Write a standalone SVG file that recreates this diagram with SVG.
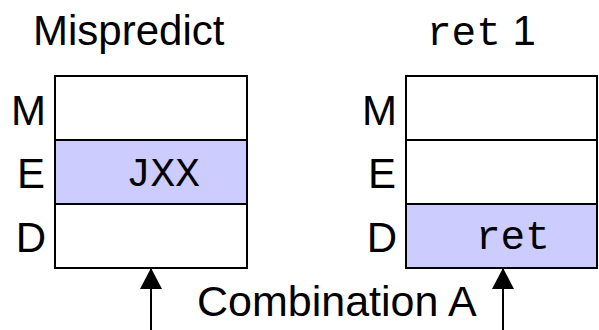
<svg xmlns="http://www.w3.org/2000/svg" width="599" height="330" viewBox="0 0 599 330">
<style>
.sans{font-family:"Liberation Sans",Arial,sans-serif;font-size:42px;fill:#000}
.mono{font-family:"Liberation Mono","Courier New",monospace;font-size:41px;fill:#000}
.cell{stroke:#000;stroke-width:2;fill:#fff}
.hi{fill:#ccccff}
.conn{stroke:#000;stroke-width:2;fill:none}
</style>
<defs>
<marker id="ah" markerUnits="userSpaceOnUse" markerWidth="22" markerHeight="22" refX="21" refY="11" orient="auto">
<path d="M0,0 L21,11 L0,22 Z" fill="#000"/>
</marker>
</defs>
<g id="title-left"><text class="sans" x="33" y="45">Mispredict</text></g>
<g id="title-right"><text x="427" y="45"><tspan class="mono">ret</tspan><tspan class="sans"> 1</tspan></text></g>
<g id="left-stack">
<rect class="cell" x="55" y="76" width="192" height="64"/>
<rect class="cell hi" x="55" y="140" width="192" height="64"/>
<rect class="cell" x="55" y="204" width="192" height="64"/>
<text class="sans" x="46" y="125" text-anchor="end">M</text>
<text class="sans" x="45" y="188" text-anchor="end">E</text>
<text class="sans" x="46" y="252" text-anchor="end">D</text>
<text class="mono" x="126" y="186">JXX</text>
</g>
<g id="right-stack">
<rect class="cell" x="406" y="76" width="191" height="64"/>
<rect class="cell" x="406" y="140" width="191" height="64"/>
<rect class="cell hi" x="406" y="204" width="191" height="64"/>
<text class="sans" x="397" y="125" text-anchor="end">M</text>
<text class="sans" x="396" y="188" text-anchor="end">E</text>
<text class="sans" x="397" y="252" text-anchor="end">D</text>
<text class="mono" x="476" y="249">ret</text>
</g>
<g id="connectors">
<line class="conn" x1="151" y1="330" x2="151" y2="268" marker-end="url(#ah)"/>
<line class="conn" x1="503" y1="330" x2="503" y2="268" marker-end="url(#ah)"/>
</g>
<g id="label"><text class="sans" x="197" y="316" style="font-size:43px">Combination A</text></g>
</svg>
